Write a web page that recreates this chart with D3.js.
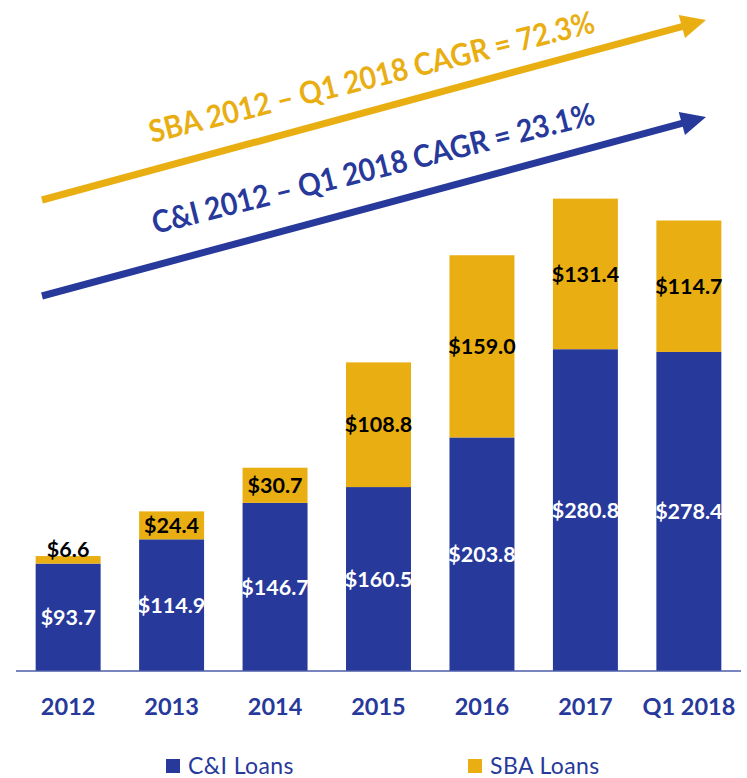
<!DOCTYPE html>
<html>
<head>
<meta charset="utf-8">
<script src="https://cdn.jsdelivr.net/npm/d3@7"></script>
<style>
  body { margin: 0; background: #fff; }
  svg { display: block; font-family: Lato, "Open Sans", sans-serif; }
</style>
</head>
<body>
<div id="chart"><svg width="747" height="778"></svg></div>
<script>
// data
const years = ["2012", "2013", "2014", "2015", "2016", "2017", "Q1 2018"];
const ciLoans = [93.7, 114.9, 146.7, 160.5, 203.8, 280.8, 278.4];
const sbaLoans = [6.6, 24.4, 30.7, 108.8, 159.0, 131.4, 114.7];
const seriesNames = ["C&I Loans", "SBA Loans"];
const cagrLabels = ["SBA 2012 \u2013 Q1 2018 CAGR = 72.3%", "C&I 2012 \u2013 Q1 2018 CAGR = 23.1%"];

const navy = "#27399a";
const gold = "#e9ae12";

function draw() {
    let svg = d3.select("#chart svg");

    let x = d3.scaleBand()
        .domain(years)
        .range([16, 741])
        .paddingInner(0.372)
        .paddingOuter(0.19);

    let y = d3.scaleLinear()
        .domain([0, 100])
        .range([671, 671 - 114.6]);

    let rows = years.map((yr, i) => ({year: yr, ci: ciLoans[i], sba: sbaLoans[i]}));

    let stack = d3.stack().keys(["ci", "sba"]);
    let layers = stack(rows);
    let colors = [navy, gold];

    // bars
    svg.selectAll("g.layer")
        .data(layers)
        .enter()
        .append("g")
        .attr("class", "layer")
        .attr("fill", (d, i) => colors[i])
        .selectAll("rect")
        .data(d => d)
        .enter()
        .append("rect")
        .attr("x", d => x(d.data.year))
        .attr("y", d => y(d[1]))
        .attr("width", x.bandwidth())
        .attr("height", d => y(d[0]) - y(d[1]));

    // baseline
    svg.append("line")
        .attr("x1", 16).attr("x2", 741)
        .attr("y1", y(0)).attr("y2", y(0))
        .attr("stroke", "#4d5ca8")
        .attr("stroke-width", 1.5);

    // value labels: white inside C&I, black inside SBA
    svg.selectAll("text.ci")
        .data(layers[0])
        .enter()
        .append("text")
        .attr("class", "ci")
        .attr("x", d => x(d.data.year) + x.bandwidth() / 2)
        .attr("y", d => (y(d[0]) + y(d[1])) / 2)
        .attr("dy", "0.36em")
        .attr("text-anchor", "middle")
        .attr("fill", "#fff")
        .attr("font-size", 21.5)
        .attr("font-weight", 700)
        .text(d => "$" + d.data.ci.toFixed(1));

    svg.selectAll("text.sba")
        .data(layers[1])
        .enter()
        .append("text")
        .attr("class", "sba")
        .attr("x", d => x(d.data.year) + x.bandwidth() / 2)
        .attr("y", d => {
            let h = y(d[0]) - y(d[1]);
            // too thin to hold the label: sit it on top
            return h < 20 ? y(d[1]) - 7 : (y(d[0]) + y(d[1])) / 2;
        })
        .attr("dy", "0.36em")
        .attr("text-anchor", "middle")
        .attr("fill", "#000")
        .attr("font-size", 21.5)
        .attr("font-weight", 700)
        .text(d => "$" + d.data.sba.toFixed(1));

    // category axis
    let axis = svg.append("g")
        .attr("transform", `translate(0,${y(0)})`)
        .call(d3.axisBottom(x).tickSize(0).tickPadding(0));
    axis.select(".domain").remove();
    axis.selectAll("text")
        .attr("y", 44)
        .attr("dy", 0)
        .attr("fill", navy)
        .attr("font-size", 23.5)
        .attr("font-weight", 700)
        .style("font-family", "Lato, sans-serif");

    // CAGR arrows
    let arrows = [
        {color: gold, start: [42, 200], tip: [706, 20], text: [152, 143], len: 458},
        {color: navy, start: [42, 296], tip: [706, 117], text: [155, 234], len: 455}
    ];
    arrows.forEach((a, i) => {
        let dx = a.tip[0] - a.start[0], dy = a.tip[1] - a.start[1];
        let L = Math.hypot(dx, dy);
        let ux = dx / L, uy = dy / L;
        let headLen = 25, headHalf = 12;
        let bx = a.tip[0] - ux * headLen, by = a.tip[1] - uy * headLen;
        svg.append("line")
            .attr("x1", a.start[0]).attr("y1", a.start[1])
            .attr("x2", bx + ux * 2).attr("y2", by + uy * 2)
            .attr("stroke", a.color)
            .attr("stroke-width", 7);
        svg.append("path")
            .attr("d", d3.line()([
                a.tip,
                [bx - uy * headHalf, by + ux * headHalf],
                [bx + uy * headHalf, by - ux * headHalf]
            ]) + "Z")
            .attr("fill", a.color);
        svg.append("text")
            .attr("transform", `translate(${a.text[0]},${a.text[1]}) rotate(-14)`)
            .attr("fill", a.color)
            .attr("font-size", 31)
            .attr("font-weight", 700)
            .attr("textLength", a.len)
            .attr("lengthAdjust", "spacingAndGlyphs")
            .text(cagrLabels[i]);
    });

    // legend
    let legendX = [166, 468];
    let legend = svg.selectAll("g.legend")
        .data(seriesNames)
        .enter()
        .append("g")
        .attr("class", "legend")
        .attr("transform", (d, i) => `translate(${legendX[i]},759)`);
    legend.append("rect")
        .attr("width", 14).attr("height", 14)
        .attr("fill", (d, i) => colors[i]);
    legend.append("text")
        .attr("x", 22).attr("y", 14.5)
        .attr("fill", navy)
        .attr("font-size", 23)
        .attr("letter-spacing", 0.4)
        .text(d => d);
}

draw();
</script>
</body>
</html>
